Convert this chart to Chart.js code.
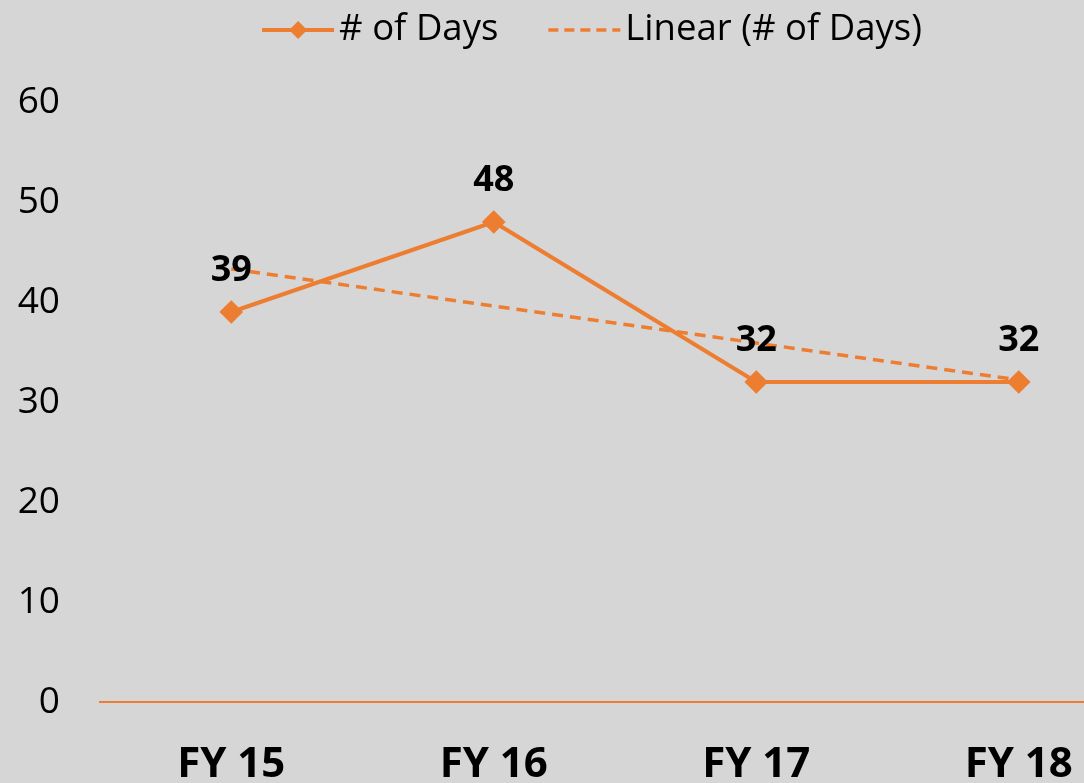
<!DOCTYPE html>
<html>
<head>
<meta charset="utf-8">
<script src="https://cdn.jsdelivr.net/npm/chart.js@4"></script>
<style>
  html, body { margin: 0; padding: 0; background: #d6d6d6; overflow: hidden; }
  #wrap { width: 1163px; height: 783px; }
</style>
</head>
<body>
<div id="wrap"><canvas id="myChart" width="1163" height="783"></canvas></div>
<script>
const categories = ["FY 15", "FY 16", "FY 17", "FY 18"];
const days = [39, 48, 32, 32];
const trend = [43.3, 39.6, 35.9, 32.2];
const yTicks = [0, 10, 20, 30, 40, 50, 60];

const orange = "#ED7D31";
const fontFamily = "'Open Sans', sans-serif";

// labels above the main series points + custom legend
const extras = {
  id: "extras",
  beforeDraw(chart) {
    const c = chart.ctx;
    c.save();
    c.fillStyle = "#d6d6d6";
    c.fillRect(0, 0, chart.width, chart.height);
    c.restore();
  },
  afterDatasetsDraw(chart) {
    const c = chart.ctx;
    const meta = chart.getDatasetMeta(0);
    c.save();
    c.font = "bold 36px " + fontFamily;
    c.fillStyle = "#000";
    c.textAlign = "center";
    c.textBaseline = "middle";
    meta.data.forEach((pt, i) => {
      c.fillText(String(days[i]), pt.x, pt.y - 41);
    });
    c.restore();
  },
  afterDraw(chart) {
    const c = chart.ctx;
    const ds = chart.data.datasets;
    c.save();
    c.font = "36.5px " + fontFamily;
    const iconW = 72, gap = 5, between = 50;
    const w1 = c.measureText(ds[0].label).width;
    const w2 = c.measureText(ds[1].label).width;
    const total = iconW + gap + w1 + between + iconW + gap + w2;
    let x = 592 - total / 2;
    const y = 30;
    // item 1
    c.strokeStyle = orange;
    c.lineWidth = 4;
    c.beginPath();
    c.moveTo(x, y);
    c.lineTo(x + iconW, y);
    c.stroke();
    c.fillStyle = orange;
    c.beginPath();
    const cx = x + iconW / 2;
    c.moveTo(cx, y - 9);
    c.lineTo(cx + 9, y);
    c.lineTo(cx, y + 9);
    c.lineTo(cx - 9, y);
    c.closePath();
    c.fill();
    x += iconW + gap;
    c.fillStyle = "#000";
    c.textBaseline = "middle";
    c.fillText(ds[0].label, x, y);
    x += w1 + between;
    // item 2
    c.setLineDash([10, 6]);
    c.lineWidth = 3.5;
    c.beginPath();
    c.moveTo(x, y);
    c.lineTo(x + iconW, y);
    c.stroke();
    c.setLineDash([]);
    x += iconW + gap;
    c.fillText(ds[1].label, x, y);
    c.restore();
  }
};

new Chart(document.getElementById("myChart"), {
  type: "line",
  data: {
    labels: categories,
    datasets: [
      {
        label: "# of Days",
        data: days,
        borderColor: orange,
        backgroundColor: orange,
        borderWidth: 4,
        pointStyle: "rectRot",
        pointRadius: 9,
        pointHoverRadius: 9,
        tension: 0,
      },
      {
        label: "Linear (# of Days)",
        data: trend,
        borderColor: orange,
        borderWidth: 3.5,
        borderDash: [11, 7],
        pointRadius: 0,
        tension: 0,
      },
    ],
  },
  options: {
    responsive: false,
    animation: false,
    events: [],
    layout: { padding: { top: 102, left: 0, right: 1, bottom: 0 } },
    plugins: {
      legend: { display: false },
      tooltip: { enabled: false },
    },
    scales: {
      x: {
        type: "category",
        offset: true,
        grid: { display: false, drawTicks: false },
        border: { display: true, color: orange, width: 2 },
        ticks: {
          color: "#000",
          padding: 38,
          maxRotation: 0,
          font: { family: fontFamily, size: 42, weight: "bold" },
        },
        afterFit(scale) { scale.height = 81; },
      },
      y: {
        min: 0,
        max: 60,
        grid: { display: false, drawTicks: false },
        border: { display: false },
        afterBuildTicks(scale) { scale.ticks = yTicks.map(v => ({ value: v })); },
        ticks: {
          color: "#000",
          padding: 40,
          font: { family: fontFamily, size: 37 },
        },
        afterFit(scale) { scale.width = 100; },
      },
    },
  },
  plugins: [extras],
});
</script>
</body>
</html>
